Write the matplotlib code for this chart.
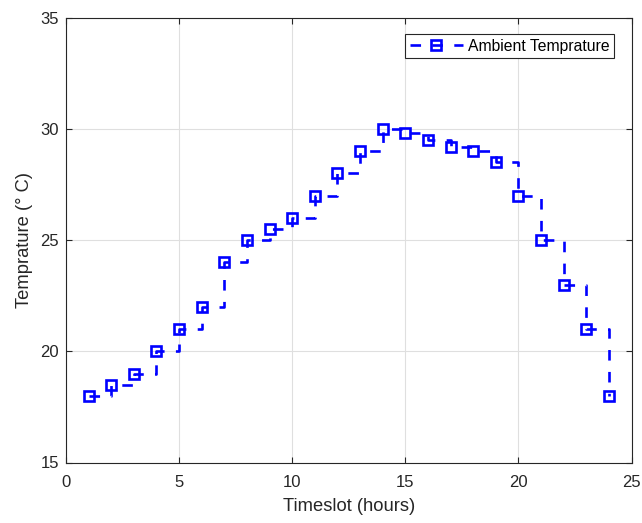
import matplotlib
matplotlib.use("Agg")
import matplotlib.pyplot as plt

timeslots = list(range(1, 25))
temperature = [18.0, 18.5, 19.0, 20.0, 21.0, 22.0, 24.0, 25.0, 25.5, 26.0, 27.0, 28.0,
               29.0, 30.0, 29.8, 29.5, 29.2, 29.0, 28.5, 27.0, 25.0, 23.0, 21.0, 18.0]
series_label = "Ambient Temprature"
xticks = [0, 5, 10, 15, 20, 25]
yticks = [15, 20, 25, 30, 35]

plt.rcParams['font.family'] = ['Liberation Sans', 'DejaVu Sans']
fig = plt.figure(figsize=(6.42, 5.23), dpi=100)
L, R, T, B = 66, 631.5, 17.5, 462.5
ax = fig.add_axes([L/642, (523-B)/523, (R-L)/642, (B-T)/523])

ax.step(timeslots, temperature, where='post', color='#0000ff', linestyle=(0, (4, 4.3)),
        linewidth=1.9, marker='s', markersize=7.6, markerfacecolor='none',
        markeredgecolor='#0000ff', markeredgewidth=1.9, label=series_label)

ax.set_xlim(0, 25)
ax.set_ylim(15, 35)
ax.set_xticks(xticks)
ax.set_yticks(yticks)
ax.grid(True, color='#dfdfdf', linewidth=0.8)
ax.set_axisbelow(True)
ax.tick_params(direction='in', top=True, right=True, length=4, width=0.8,
               colors='#262626', labelsize=12, labelcolor='#262626')
ax.tick_params(axis='x', pad=9)
ax.tick_params(axis='y', pad=5)
for s in ax.spines.values():
    s.set_color('#262626')
    s.set_linewidth(0.8)
ax.set_xlabel("Timeslot (hours)", fontsize=13.2, color='#262626', labelpad=6)
ax.set_ylabel("Temprature (° C)", fontsize=13.2, color='#262626', labelpad=5)

lx = (614 - L) / (R - L)
ly = (B - 34) / (B - T)
leg = ax.legend(loc='upper right', bbox_to_anchor=(lx, ly), fontsize=11.3, fancybox=False,
                edgecolor='#262626', framealpha=1, borderaxespad=0, borderpad=0.3,
                handlelength=3.4, handletextpad=0.3)
leg.get_frame().set_linewidth(0.8)

fig.savefig("out.png", dpi=100)
